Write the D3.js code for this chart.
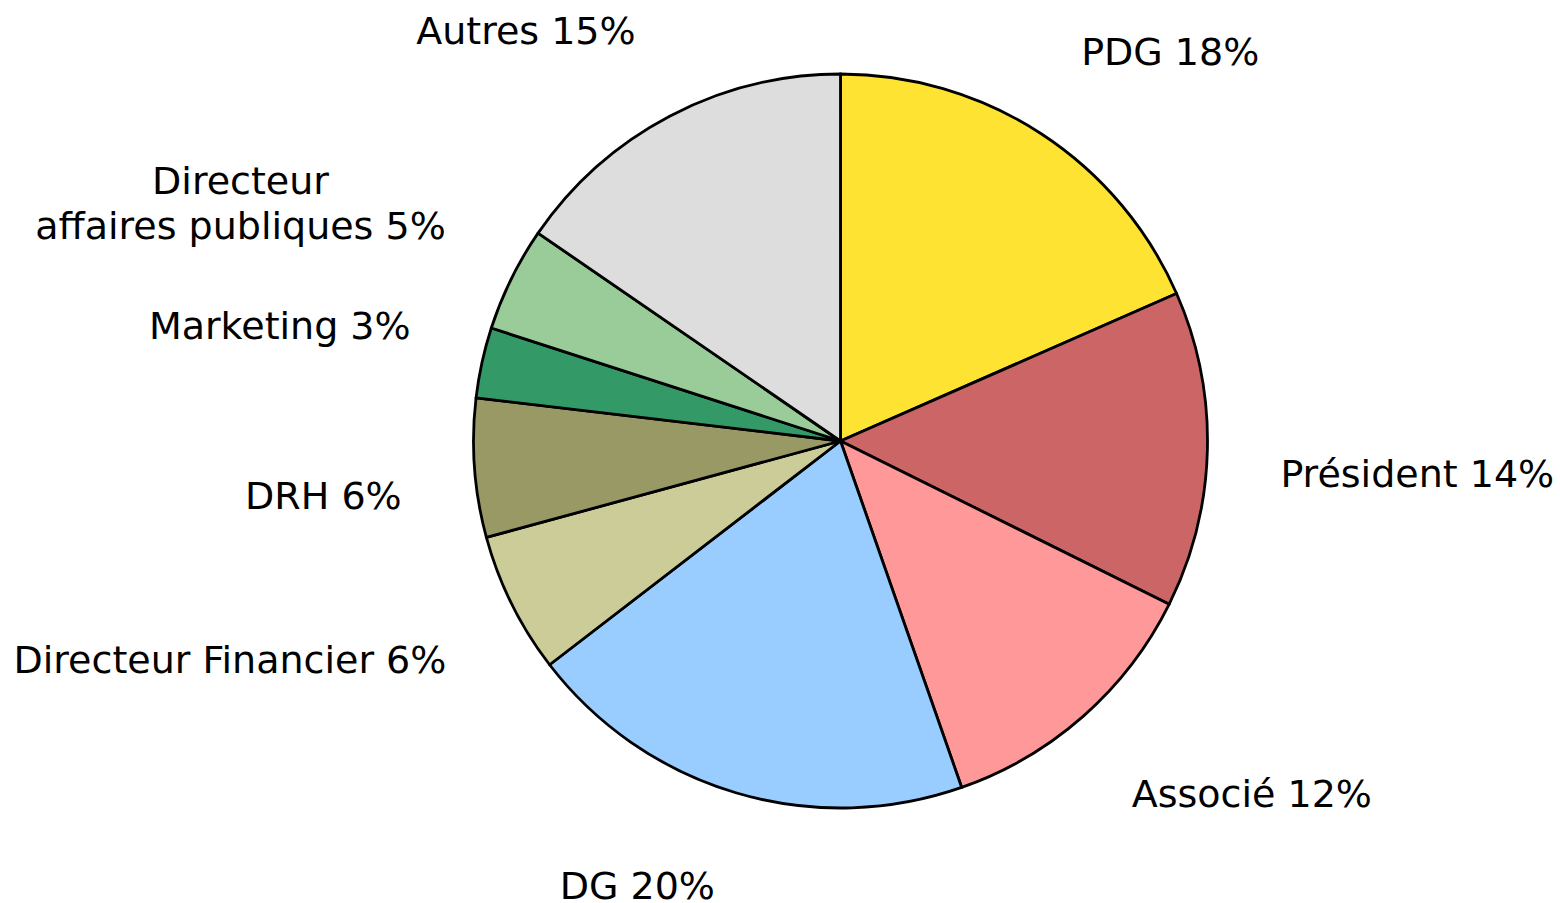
<!DOCTYPE html>
<html lang="fr">
<head>
    <meta charset="UTF-8">
    <title>Répartition par fonction</title>
    <script src="https://d3js.org/d3.v7.min.js"></script>
    <style>
        body {
            margin: 0;
            background: #fff;
        }
        text {
            font-family: "DejaVu Sans", Verdana, sans-serif;
            font-size: 38px;
            fill: #000;
        }
    </style>
</head>
<body>
    <div id="chart"></div>

    <script>
        // Slices, clockwise from 12 o'clock
        const categories = ["PDG", "Président", "Associé", "DG", "Directeur Financier", "DRH", "Marketing", "Directeur\naffaires publiques", "Autres"];
        const shares = [18.4, 13.9, 12.3, 19.9, 6.2, 6.1, 3.1, 4.6, 15.4];
        const colors = ["#ffe333", "#cc6666", "#ff9999", "#99ccff", "#cccc99", "#999966", "#339966", "#99cc99", "#dddddd"];

        const width = 1560, height = 903;
        const cx = 840.5, cy = 441, radius = 367;

        const svg = d3.select("#chart")
            .append("svg")
            .attr("width", width)
            .attr("height", height);

        const g = svg.append("g")
            .attr("transform", `translate(${cx},${cy})`);

        const pie = d3.pie().sort(null).value(d => d);
        const arcs = pie(shares);

        const arc = d3.arc().innerRadius(0).outerRadius(radius);
        const labelArc = d3.arc().innerRadius(radius + 73).outerRadius(radius + 73);

        g.selectAll("path")
            .data(arcs)
            .enter()
            .append("path")
            .attr("d", arc)
            .attr("fill", (d, i) => colors[i])
            .attr("stroke", "#000")
            .attr("stroke-width", 2.8)
            .attr("stroke-linejoin", "round");

        // Labels: box corner nearest the pie sits on the outer label arc
        const lineHeight = 45;
        arcs.forEach((d, i) => {
            const [ax, ay] = labelArc.centroid(d);
            const lines = (categories[i] + " " + Math.round(shares[i]) + "%").split("\n");

            const text = g.append("text").attr("text-anchor", "middle");
            const spans = lines.map(l => text.append("tspan").text(l));
            const w = d3.max(spans, s => s.node().getComputedTextLength());

            const x = ax < 0 ? ax - w / 2 : ax + w / 2;
            const firstBase = ay < 0
                ? ay - 8 - (lines.length - 1) * lineHeight
                : ay + 36;

            spans.forEach((s, j) => {
                s.attr("x", x).attr("y", firstBase + j * lineHeight);
            });
        });
    </script>
</body>
</html>
